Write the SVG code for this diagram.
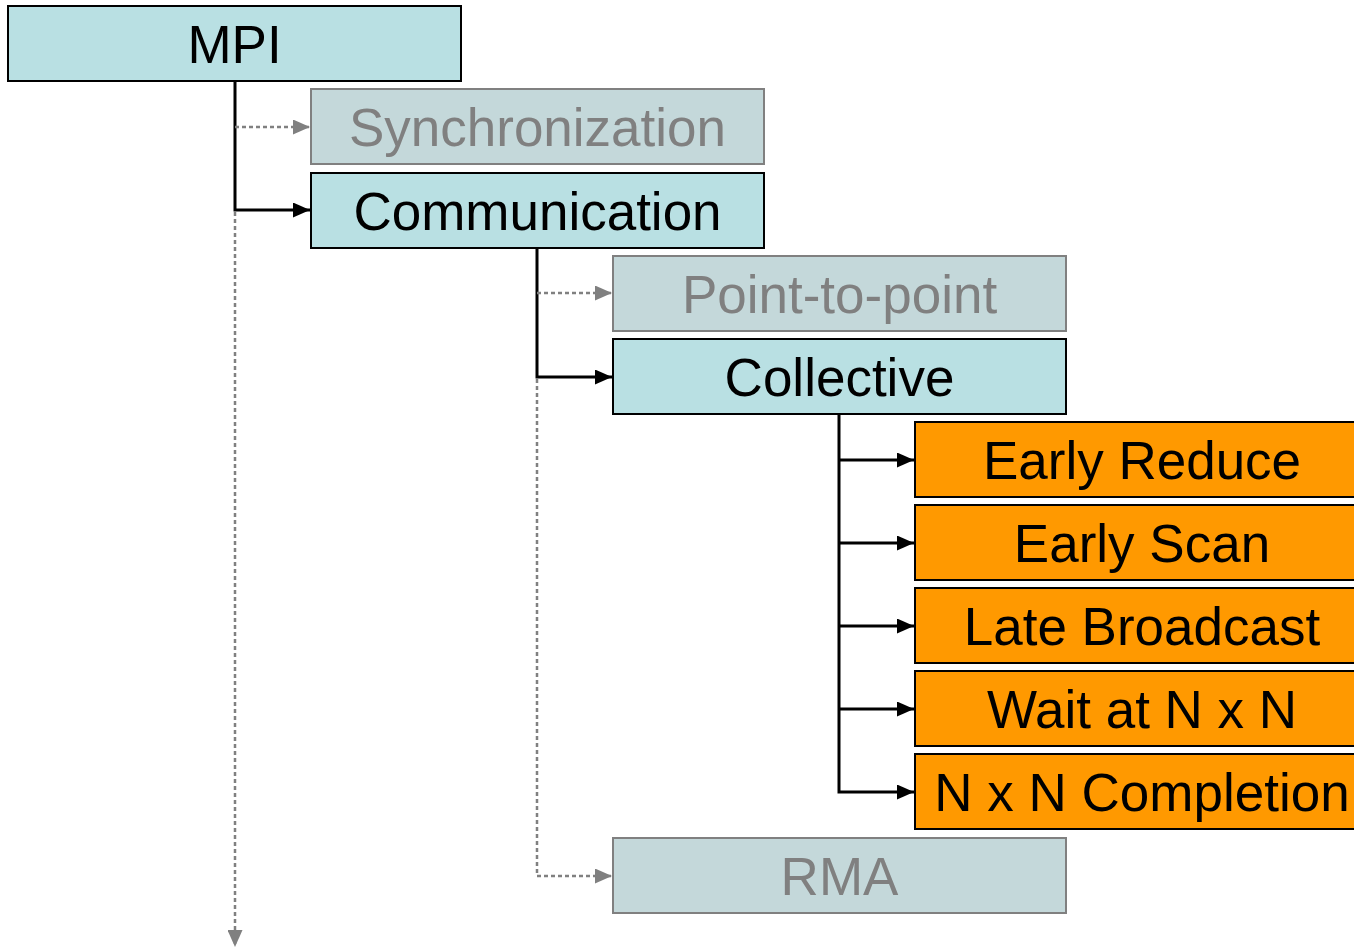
<svg xmlns="http://www.w3.org/2000/svg" width="1354" height="948" viewBox="0 0 1354 948">
<defs>
<marker id="ah" markerWidth="17" markerHeight="15" refX="17" refY="7.5" orient="auto" markerUnits="userSpaceOnUse"><path d="M0,0 L17,7.5 L0,15 Z" fill="#000"/></marker>
<marker id="ahg" markerWidth="17" markerHeight="15" refX="17" refY="7.5" orient="auto" markerUnits="userSpaceOnUse"><path d="M0,0 L17,7.5 L0,15 Z" fill="#808080"/></marker>
</defs>
<style>
.act rect{fill:#b9e0e3;stroke:#000;stroke-width:2}
.ina rect{fill:#c4d8da;stroke:#808080;stroke-width:2}
.org rect{fill:#ff9900;stroke:#000;stroke-width:2}
text{font-family:"Liberation Sans",Arial,sans-serif;font-size:53px;text-anchor:middle}
.act text,.org text{fill:#000}
.ina text{fill:#808080}
.s{stroke:#000;stroke-width:3;fill:none}
.d{stroke:#808080;stroke-width:2.5;stroke-dasharray:4 3;fill:none}
</style>
<rect width="1354" height="948" fill="#fff"/>
<g id="connectors">
<path class="s" d="M235,81 V210 H310" marker-end="url(#ah)"/>
<path class="d" d="M235,127 H310" marker-end="url(#ahg)"/>
<path class="d" d="M235,212 V947" marker-end="url(#ahg)"/>
<path class="s" d="M537,248 V377 H612" marker-end="url(#ah)"/>
<path class="d" d="M537,293 H612" marker-end="url(#ahg)"/>
<path class="d" d="M537,379 V876 H612" marker-end="url(#ahg)"/>
<path class="s" d="M839,414 V792 H914" marker-end="url(#ah)"/>
<path class="s" d="M839,460 H914" marker-end="url(#ah)"/>
<path class="s" d="M839,543 H914" marker-end="url(#ah)"/>
<path class="s" d="M839,626 H914" marker-end="url(#ah)"/>
<path class="s" d="M839,709 H914" marker-end="url(#ah)"/>
</g>
<g id="mpi" class="act"><rect x="8" y="6" width="453" height="75"/><text x="234.5" y="63">MPI</text></g>
<g id="sync" class="ina"><rect x="311" y="89" width="453" height="75"/><text x="537.5" y="146">Synchronization</text></g>
<g id="comm" class="act"><rect x="311" y="173" width="453" height="75"/><text x="537.5" y="230">Communication</text></g>
<g id="p2p" class="ina"><rect x="613" y="256" width="453" height="75"/><text x="839.5" y="313">Point-to-point</text></g>
<g id="coll" class="act"><rect x="613" y="339" width="453" height="75"/><text x="839.5" y="396">Collective</text></g>
<g id="early-reduce" class="org"><rect x="915" y="422" width="453" height="75"/><text x="1142" y="479">Early Reduce</text></g>
<g id="early-scan" class="org"><rect x="915" y="505" width="453" height="75"/><text x="1142" y="562">Early Scan</text></g>
<g id="late-broadcast" class="org"><rect x="915" y="588" width="453" height="75"/><text x="1142" y="645">Late Broadcast</text></g>
<g id="wait-nxn" class="org"><rect x="915" y="671" width="453" height="75"/><text x="1142" y="728">Wait at N x N</text></g>
<g id="nxn-completion" class="org"><rect x="915" y="754" width="453" height="75"/><text x="1142" y="811">N x N Completion</text></g>
<g id="rma" class="ina"><rect x="613" y="838" width="453" height="75"/><text x="839.5" y="895">RMA</text></g>
</svg>
